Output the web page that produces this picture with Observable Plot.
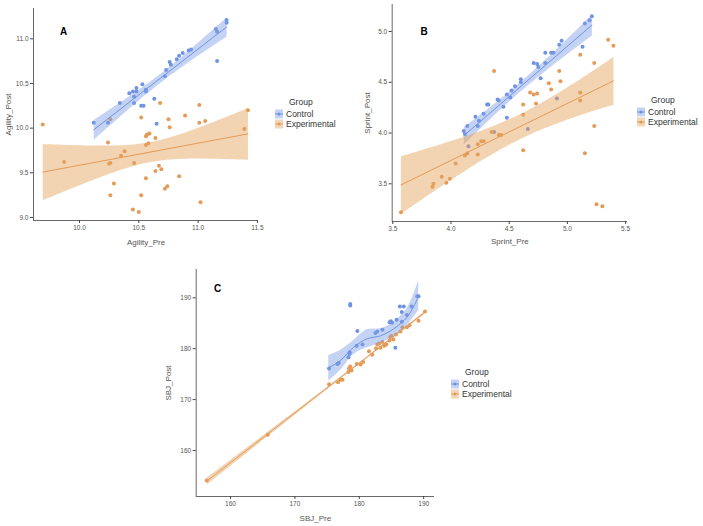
<!DOCTYPE html>
<html><head><meta charset="utf-8">
<script src="https://cdn.jsdelivr.net/npm/d3@7"></script>
<script src="https://cdn.jsdelivr.net/npm/@observablehq/plot@0.6"></script>
<style>
body{margin:0;background:#fff;font-family:"Liberation Sans",Arial,sans-serif;}
#root{position:relative;width:703px;height:526px;overflow:hidden;background:#fff;}
.panel{position:absolute;}
.legend{position:absolute;font-size:8.5px;color:#333;line-height:10px;}
.legend .ttl{margin-left:14px;margin-bottom:2px;font-size:8.5px;color:#333;}
.legend .row{display:flex;align-items:center;height:10px;}
.legend svg{margin-right:3px;}
</style></head><body><div id="root"></div>
<script>
// ---------- DATA ----------
const groups = ["Control", "Experimental"];
const groupColors = ["#6f93e4", "#e59b57"];
const bandColors = ["#7c9de6", "#e3a35e"];

// Panel A: Agility
const agilityCtrlPre  = [10.12,10.24,10.34,10.42,10.45,10.48,10.48,10.46,10.46,10.52,10.54,10.53,10.56,10.56,10.63,10.65,10.72,10.73,10.76,10.77,10.82,10.84,10.87,10.92,10.94,11.15,11.16,11.16,11.24,11.24];
const agilityCtrlPost = [10.06,10.06,10.28,10.39,10.41,10.45,10.41,10.35,10.28,10.25,10.25,10.49,10.43,10.41,10.33,10.05,10.58,10.65,10.74,10.71,10.77,10.81,10.84,10.87,10.88,11.11,11.08,10.75,11.21,11.18];
const agilityExpPre  = [9.69,9.87,10.24,10.25,10.26,10.26,10.26,10.29,10.35,10.38,10.46,10.45,10.50,10.52,10.52,10.56,10.57,10.59,10.56,10.58,10.56,10.64,10.64,10.68,10.67,10.69,10.72,10.74,10.75,10.76,10.84,10.89,11.01,11.01,11.06,11.02,11.39,11.42];
const agilityExpPost = [10.04,9.62,9.84,9.60,10.10,9.61,9.25,9.38,9.69,9.74,9.61,9.09,9.06,10.12,9.25,9.91,9.93,9.94,9.81,9.83,9.44,9.89,9.52,10.28,9.58,9.54,9.32,9.35,10.10,10.01,9.46,10.14,10.26,10.06,10.08,9.17,9.99,10.20];
const agilityXTicks = [10.0, 10.5, 11.0, 11.5];
const agilityYTicks = [9.0, 9.5, 10.0, 10.5, 11.0];

// Panel B: Sprint
const sprintCtrlPre  = [4.11,4.12,4.14,4.15,4.21,4.23,4.24,4.28,4.31,4.32,4.37,4.40,4.41,4.45,4.48,4.48,4.51,4.52,4.55,4.60,4.60,4.66,4.71,4.74,4.75,4.77,4.81,4.81,4.86,4.88,4.91,4.93,4.95,5.13,5.15,5.19,5.21];
const sprintCtrlPost = [4.02,3.99,4.07,3.87,4.16,4.07,4.12,4.19,4.28,4.28,4.01,4.33,4.32,4.26,4.38,4.15,4.35,4.42,4.46,4.53,4.50,4.04,4.69,4.68,4.65,4.54,4.69,4.79,4.79,4.79,4.34,4.87,4.91,4.85,5.08,5.11,5.15];
const sprintExpPre  = [3.57,3.84,3.85,3.92,3.96,3.99,4.04,4.12,4.14,4.23,4.23,4.26,4.28,4.35,4.37,4.41,4.43,4.62,4.62,4.62,4.68,4.71,4.73,4.74,4.84,4.86,4.93,4.94,5.11,5.11,5.11,5.15,5.23,5.23,5.25,5.30,5.35,5.395];
const sprintExpPost = [3.22,3.47,3.50,3.57,3.51,3.55,3.70,3.78,3.80,3.79,3.89,3.92,3.92,4.01,4.61,3.98,3.98,3.83,4.18,4.28,4.40,4.38,4.29,4.39,4.49,4.43,4.61,4.51,4.77,4.32,4.40,3.80,4.69,4.07,3.30,3.28,4.92,4.86];
const sprintXTicks = [3.5, 4.0, 4.5, 5.0, 5.5];
const sprintYTicks = [3.5, 4.0, 4.5, 5.0];

// Panel C: SBJ
const sbjCtrlPre  = [175.3,176.6,176.8,178.3,178.5,178.5,178.6,178.6,179.6,179.7,180.5,182.5,182.8,183.6,184.7,184.9,185.1,185.6,185.8,186.3,186.6,186.9,186.6,187.4,188.1,189.0,189.2];
const sbjCtrlPost = [176.1,177.0,177.2,178.3,179.3,179.0,188.8,188.5,180.6,183.5,180.8,183.1,183.4,183.7,185.2,185.4,185.1,180.2,185.7,188.3,187.2,188.3,185.3,186.6,188.3,190.3,190.3];
const sbjExpPre  = [156.3,165.8,175.3,176.7,177.1,177.4,178.3,178.4,178.6,178.8,179.6,180.2,180.6,181.5,182.0,182.6,182.8,183.1,183.3,183.6,183.9,184.2,184.7,184.8,185.0,185.3,185.7,186.4,186.7,187.4,187.8,189.2,190.2];
const sbjExpPost = [154.1,163.1,173.0,173.4,173.9,173.9,175.4,176.1,176.5,175.7,177.0,176.9,177.4,179.5,178.8,180.1,180.8,181.0,180.2,181.3,180.6,180.8,181.6,182.3,182.5,181.8,182.8,183.4,184.2,184.2,184.6,185.5,187.3];
// Loess smooth for Control
const sbjSmoothX   = [175.26,177.07,179.14,181.21,183.28,185.35,187.42,189.23];
const sbjSmoothFit = [176.25,177.69,180.31,181.95,182.53,183.91,186.20,190.26];
const sbjSmoothLo  = [173.63,175.72,178.87,180.18,181.09,182.40,184.56,187.51];
const sbjSmoothHi  = [178.67,179.65,181.62,183.71,183.91,185.22,187.84,193.41];
const sbjXTicks = [160, 170, 180, 190];
const sbjYTicks = [160, 170, 180, 190];

// ---------- BUILD ----------
const zip = (xs, ys) => xs.map((x, i) => ({x, y: ys[i]}));
const root = document.getElementById("root");
const FONT = '"Liberation Sans", Arial, sans-serif';

function makePanel(cfg) {
  const [cBlue, cOrange] = groupColors;
  const [bBlue, bOrange] = bandColors;
  const ctrl = zip(cfg.ctrlPre, cfg.ctrlPost);
  const exp = zip(cfg.expPre, cfg.expPost);
  const marks = [
    Plot.ruleY([cfg.yDomain[0]], {stroke: "#444", strokeWidth: 0.8}),
    Plot.ruleX([cfg.xDomain[0]], {stroke: "#444", strokeWidth: 0.8}),
    Plot.axisX({ticks: cfg.xTicks, tickFormat: cfg.fmt, tickSize: 3, tickPadding: 2, fontSize: 6.5, label: null, stroke: "#444"}),
    Plot.axisY({ticks: cfg.yTicks, tickFormat: cfg.fmt, tickSize: 3, tickPadding: 2, fontSize: 6.5, label: null, stroke: "#444"}),
    Plot.dot(ctrl, {x: "x", y: "y", r: 2, fill: cBlue, stroke: "none"}),
    Plot.dot(exp, {x: "x", y: "y", r: 2, fill: cOrange, stroke: "none"})
  ];
  if (cfg.smooth) {
    const s = cfg.smooth;
    const sd = s.x.map((x, i) => ({x, fit: s.fit[i], lo: s.lo[i], hi: s.hi[i]}));
    marks.push(Plot.areaY(sd, {x: "x", y1: "lo", y2: "hi", fill: bBlue, fillOpacity: 0.45, curve: "catmull-rom"}));
    marks.push(Plot.line(sd, {x: "x", y: "fit", stroke: cBlue, strokeWidth: 1, curve: "catmull-rom"}));
  } else {
    marks.push(Plot.linearRegressionY(ctrl, {x: "x", y: "y", stroke: cBlue, fill: bBlue, fillOpacity: 0.45, strokeWidth: 1}));
  }
  marks.push(Plot.linearRegressionY(exp, {x: "x", y: "y", stroke: cOrange, fill: bOrange, fillOpacity: 0.48, strokeWidth: 1}));
  marks.push(Plot.text([cfg.letter], {frameAnchor: "top-left", dx: cfg.letterPos[0], dy: cfg.letterPos[1], textAnchor: "middle", lineAnchor: "middle", fontWeight: "bold", fontSize: 10, fill: "#000"}));
  marks.push(Plot.text([cfg.xLabel], {frameAnchor: "bottom", dy: cfg.xLabelDy, textAnchor: "middle", lineAnchor: "middle", fontSize: 8, fill: "#555"}));
  marks.push(Plot.text([cfg.yLabel], {frameAnchor: "left", dx: cfg.yLabelDx, rotate: -90, textAnchor: "middle", lineAnchor: "middle", fontSize: 8, fill: "#555"}));

  const svg = Plot.plot({
    width: cfg.width, height: cfg.height,
    marginLeft: cfg.m[0], marginRight: cfg.m[1], marginTop: cfg.m[2], marginBottom: cfg.m[3],
    x: {domain: cfg.xDomain},
    y: {domain: cfg.yDomain},
    style: {fontFamily: FONT, color: "#555", background: "transparent", overflow: "visible"},
    marks
  });
  const wrap = document.createElement("div");
  wrap.className = "panel";
  wrap.style.left = cfg.left + "px";
  wrap.style.top = cfg.top + "px";
  wrap.appendChild(svg);
  root.appendChild(wrap);
}

function makeLegend(left, top) {
  const d = document.createElement("div");
  d.className = "legend";
  d.style.left = left + "px";
  d.style.top = top + "px";
  const t = document.createElement("div");
  t.className = "ttl";
  t.textContent = "Group";
  d.appendChild(t);
  groups.forEach((g, i) => {
    const row = document.createElement("div");
    row.className = "row";
    const ns = "http://www.w3.org/2000/svg";
    const s = document.createElementNS(ns, "svg");
    s.setAttribute("width", 8); s.setAttribute("height", 10);
    const r = document.createElementNS(ns, "rect");
    r.setAttribute("x", 0); r.setAttribute("y", 0.5); r.setAttribute("width", 8); r.setAttribute("height", 9);
    r.setAttribute("fill", bandColors[i]); r.setAttribute("fill-opacity", 0.45);
    const l = document.createElementNS(ns, "line");
    l.setAttribute("x1", 0); l.setAttribute("x2", 8); l.setAttribute("y1", 5); l.setAttribute("y2", 5);
    l.setAttribute("stroke", groupColors[i]); l.setAttribute("stroke-width", 1);
    const c = document.createElementNS(ns, "circle");
    c.setAttribute("cx", 4); c.setAttribute("cy", 5); c.setAttribute("r", 1.5); c.setAttribute("fill", groupColors[i]);
    s.appendChild(r); s.appendChild(l); s.appendChild(c);
    row.appendChild(s);
    const tx = document.createElement("span");
    tx.textContent = g;
    row.appendChild(tx);
    d.appendChild(row);
  });
  root.appendChild(d);
}

makePanel({
  left: 0, top: 0, width: 262, height: 250, m: [33, 4, 8, 30],
  xDomain: [9.612, 11.509], yDomain: [8.966, 11.339],
  xTicks: agilityXTicks, yTicks: agilityYTicks, fmt: d3.format(".1f"),
  ctrlPre: agilityCtrlPre, ctrlPost: agilityCtrlPost, expPre: agilityExpPre, expPost: agilityExpPost,
  letter: "A", letterPos: [30, 23], xLabel: "Agility_Pre", yLabel: "Agility_Post", xLabelDy: 22, yLabelDx: -25
});
makePanel({
  left: 350, top: 0, width: 280, height: 250, m: [41.7, 3, 4, 29],
  xDomain: [3.495, 5.516], yDomain: [3.129, 5.266],
  xTicks: sprintXTicks, yTicks: sprintYTicks, fmt: d3.format(".1f"),
  ctrlPre: sprintCtrlPre, ctrlPost: sprintCtrlPost, expPre: sprintExpPre, expPost: sprintExpPost,
  letter: "B", letterPos: [32, 27], xLabel: "Sprint_Pre", yLabel: "Sprint_Post", xLabelDy: 20, yLabelDx: -25
});
makePanel({
  left: 160, top: 260, width: 280, height: 266, m: [35.7, 6, 9, 30],
  xDomain: [154.67, 191.68], yDomain: [150.96, 195.56],
  xTicks: sbjXTicks, yTicks: sbjYTicks, fmt: d3.format("d"),
  ctrlPre: sbjCtrlPre, ctrlPost: sbjCtrlPost, expPre: sbjExpPre, expPost: sbjExpPost,
  smooth: {x: sbjSmoothX, fit: sbjSmoothFit, lo: sbjSmoothLo, hi: sbjSmoothHi},
  letter: "C", letterPos: [21.5, 19], xLabel: "SBJ_Pre", yLabel: "SBJ_Post", xLabelDy: 22, yLabelDx: -28
});

makeLegend(275, 97);
makeLegend(637, 95);
makeLegend(451, 367);
</script></body></html>
